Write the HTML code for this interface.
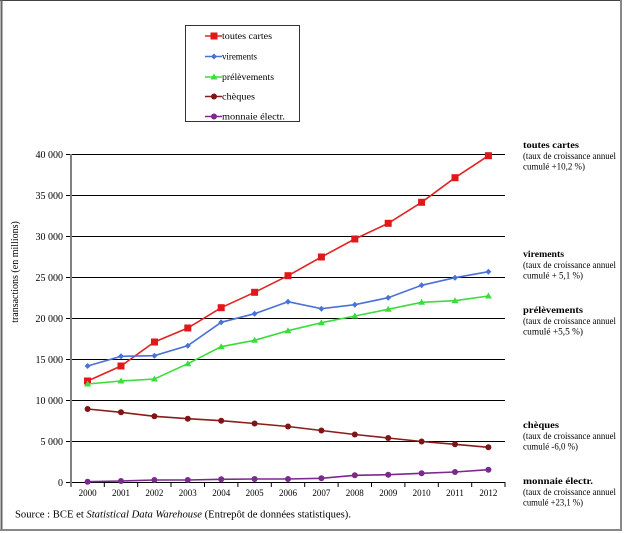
<!DOCTYPE html>
<html><head><meta charset="utf-8"><style>
html,body{margin:0;padding:0;background:#fff;}
svg{display:block;}
text{font-family:"Liberation Serif","DejaVu Serif",serif;fill:#000;}
</style></head><body>
<svg width="624" height="533" viewBox="0 0 624 533" xmlns="http://www.w3.org/2000/svg">
<rect x="0" y="0" width="624" height="533" fill="#fff"/>
<!-- outer frame -->
<line x1="0" y1="0.5" x2="622" y2="0.5" stroke="#444" stroke-width="1"/>
<line x1="1.5" y1="0" x2="1.5" y2="531" stroke="#666" stroke-width="2"/>
<line x1="621" y1="0" x2="621" y2="531" stroke="#888" stroke-width="2"/>
<line x1="0" y1="530" x2="622" y2="530" stroke="#888" stroke-width="2"/>

<!-- gridlines -->
<g stroke="#000" stroke-width="1">
<line x1="66" y1="154.5" x2="505" y2="154.5"/>
<line x1="66" y1="195.5" x2="505" y2="195.5"/>
<line x1="66" y1="236.5" x2="505" y2="236.5"/>
<line x1="66" y1="277.5" x2="505" y2="277.5"/>
<line x1="66" y1="318.5" x2="505" y2="318.5"/>
<line x1="66" y1="359.5" x2="505" y2="359.5"/>
<line x1="66" y1="400.5" x2="505" y2="400.5"/>
<line x1="66" y1="441.5" x2="505" y2="441.5"/>
<line x1="66" y1="482.5" x2="505" y2="482.5"/>
</g>
<!-- x ticks -->
<g stroke="#000" stroke-width="1">
<line x1="104.3" y1="482" x2="104.3" y2="487"/>
<line x1="137.7" y1="482" x2="137.7" y2="487"/>
<line x1="171" y1="482" x2="171" y2="487"/>
<line x1="204.5" y1="482" x2="204.5" y2="487"/>
<line x1="237.9" y1="482" x2="237.9" y2="487"/>
<line x1="271.3" y1="482" x2="271.3" y2="487"/>
<line x1="304.7" y1="482" x2="304.7" y2="487"/>
<line x1="338.1" y1="482" x2="338.1" y2="487"/>
<line x1="371.5" y1="482" x2="371.5" y2="487"/>
<line x1="404.9" y1="482" x2="404.9" y2="487"/>
<line x1="438.3" y1="482" x2="438.3" y2="487"/>
<line x1="471.7" y1="482" x2="471.7" y2="487"/>
<line x1="505" y1="482" x2="505" y2="487"/>
</g>
<!-- y axis -->
<line x1="71" y1="154" x2="71" y2="487" stroke="#808080" stroke-width="2"/>

<!-- y labels -->
<g font-size="10" text-anchor="end">
<text x="63" y="158">40 000</text>
<text x="63" y="199">35 000</text>
<text x="63" y="240">30 000</text>
<text x="63" y="281">25 000</text>
<text x="63" y="322">20 000</text>
<text x="63" y="363">15 000</text>
<text x="63" y="404">10 000</text>
<text x="63" y="445">5 000</text>
<text x="63" y="486">0</text>
</g>
<text transform="translate(18,272) rotate(-90)" font-size="10" text-anchor="middle">transactions  (en millions)</text>

<!-- x labels -->
<g font-size="9" text-anchor="middle">
<text x="87.6" y="496">2000</text>
<text x="121" y="496">2001</text>
<text x="154.4" y="496">2002</text>
<text x="187.8" y="496">2003</text>
<text x="221.2" y="496">2004</text>
<text x="254.6" y="496">2005</text>
<text x="288" y="496">2006</text>
<text x="321.4" y="496">2007</text>
<text x="354.8" y="496">2008</text>
<text x="388.2" y="496">2009</text>
<text x="421.6" y="496">2010</text>
<text x="455" y="496">2011</text>
<text x="488.4" y="496">2012</text>
</g>

<!-- series: toutes cartes -->
<polyline fill="none" stroke="#e32322" stroke-width="1.6" points="87.6,381 121,366 154.4,342 187.8,328 221.2,307.7 254.6,292.3 288,275.7 321.4,257 354.8,239 388.2,223.3 421.6,202.3 455,177.7 488.4,155.7"/>
<g fill="#e01818">
<rect x="84" y="377.5" width="7" height="7"/><rect x="117.5" y="362.5" width="7" height="7"/><rect x="151" y="338.5" width="7" height="7"/><rect x="184.3" y="324.5" width="7" height="7"/><rect x="217.7" y="304.2" width="7" height="7"/><rect x="251.1" y="288.8" width="7" height="7"/><rect x="284.5" y="272.2" width="7" height="7"/><rect x="317.9" y="253.5" width="7" height="7"/><rect x="351.3" y="235.5" width="7" height="7"/><rect x="384.7" y="219.8" width="7" height="7"/><rect x="418.1" y="198.8" width="7" height="7"/><rect x="451.5" y="174.2" width="7" height="7"/><rect x="484.9" y="152.2" width="7" height="7"/>
</g>

<!-- virements -->
<polyline fill="none" stroke="#4a72d6" stroke-width="1.6" points="87.6,366 121,356.3 154.4,355.7 187.8,345.7 221.2,322.3 254.6,313.7 288,301.7 321.4,308.7 354.8,304.7 388.2,297.7 421.6,285.3 455,277.7 488.4,271.7"/>
<g fill="#4a72d6">
<path d="M87.6,363l3,3l-3,3l-3,-3z M121,353.3l3,3l-3,3l-3,-3z M154.4,352.7l3,3l-3,3l-3,-3z M187.8,342.7l3,3l-3,3l-3,-3z M221.2,319.3l3,3l-3,3l-3,-3z M254.6,310.7l3,3l-3,3l-3,-3z M288,298.7l3,3l-3,3l-3,-3z M321.4,305.7l3,3l-3,3l-3,-3z M354.8,301.7l3,3l-3,3l-3,-3z M388.2,294.7l3,3l-3,3l-3,-3z M421.6,282.3l3,3l-3,3l-3,-3z M455,274.7l3,3l-3,3l-3,-3z M488.4,268.7l3,3l-3,3l-3,-3z"/>
</g>

<!-- prélèvements -->
<polyline fill="none" stroke="#3ddc3d" stroke-width="1.6" points="87.6,384 121,381 154.4,379 187.8,363.7 221.2,346.7 254.6,340.3 288,330.7 321.4,322.7 354.8,316 388.2,309.3 421.6,302.3 455,300.7 488.4,296"/>
<g fill="#3ddc3d">
<path d="M87.6,380.5l3.5,6h-7z M121,377.5l3.5,6h-7z M154.4,375.5l3.5,6h-7z M187.8,360.2l3.5,6h-7z M221.2,343.2l3.5,6h-7z M254.6,336.8l3.5,6h-7z M288,327.2l3.5,6h-7z M321.4,319.2l3.5,6h-7z M354.8,312.5l3.5,6h-7z M388.2,305.8l3.5,6h-7z M421.6,298.8l3.5,6h-7z M455,297.2l3.5,6h-7z M488.4,292.5l3.5,6h-7z"/>
</g>

<!-- chèques -->
<polyline fill="none" stroke="#8a1c1c" stroke-width="1.6" points="87.6,409 121,412.3 154.4,416.3 187.8,418.7 221.2,420.7 254.6,423.5 288,426.5 321.4,430.5 354.8,434.5 388.2,438 421.6,441.5 455,444.3 488.4,447.3"/>
<g fill="#7e1515">
<circle cx="87.6" cy="409" r="3"/><circle cx="121" cy="412.3" r="3"/><circle cx="154.4" cy="416.3" r="3"/><circle cx="187.8" cy="418.7" r="3"/><circle cx="221.2" cy="420.7" r="3"/><circle cx="254.6" cy="423.5" r="3"/><circle cx="288" cy="426.5" r="3"/><circle cx="321.4" cy="430.5" r="3"/><circle cx="354.8" cy="434.5" r="3"/><circle cx="388.2" cy="438" r="3"/><circle cx="421.6" cy="441.5" r="3"/><circle cx="455" cy="444.3" r="3"/><circle cx="488.4" cy="447.3" r="3"/>
</g>

<!-- monnaie électr. -->
<polyline fill="none" stroke="#7a2a8c" stroke-width="1.6" points="87.6,481.7 121,481 154.4,480 187.8,480 221.2,479.3 254.6,479 288,479 321.4,478.3 354.8,475.3 388.2,474.7 421.6,473.3 455,472 488.4,469.7"/>
<g fill="#7a2a8c">
<circle cx="87.6" cy="481.7" r="3"/><circle cx="121" cy="481" r="3"/><circle cx="154.4" cy="480" r="3"/><circle cx="187.8" cy="480" r="3"/><circle cx="221.2" cy="479.3" r="3"/><circle cx="254.6" cy="479" r="3"/><circle cx="288" cy="479" r="3"/><circle cx="321.4" cy="478.3" r="3"/><circle cx="354.8" cy="475.3" r="3"/><circle cx="388.2" cy="474.7" r="3"/><circle cx="421.6" cy="473.3" r="3"/><circle cx="455" cy="472" r="3"/><circle cx="488.4" cy="469.7" r="3"/>
</g>

<!-- legend -->
<rect x="185.5" y="25.5" width="114" height="96" fill="#fff" stroke="#333" stroke-width="1"/>
<g stroke-width="1.6">
<line x1="205" y1="36" x2="222" y2="36" stroke="#e32322"/>
<line x1="205" y1="56.5" x2="222" y2="56.5" stroke="#4a72d6"/>
<line x1="205" y1="77" x2="222" y2="77" stroke="#3ddc3d"/>
<line x1="205" y1="96.5" x2="222" y2="96.5" stroke="#8a1c1c"/>
<line x1="205" y1="116.5" x2="222" y2="116.5" stroke="#7a2a8c"/>
</g>
<rect x="210.5" y="32.5" width="7" height="7" fill="#e01818"/>
<path d="M214,53.5l3,3l-3,3l-3,-3z" fill="#4a72d6"/>
<path d="M214,73.5l3.5,6h-7z" fill="#3ddc3d"/>
<circle cx="214" cy="96.5" r="3" fill="#7e1515"/>
<circle cx="214" cy="116.5" r="3" fill="#7a2a8c"/>
<g font-size="9">
<text x="222" y="39" textLength="50" lengthAdjust="spacingAndGlyphs">toutes cartes</text>
<text x="222" y="59.5" textLength="35" lengthAdjust="spacingAndGlyphs">virements</text>
<text x="222" y="80" textLength="52" lengthAdjust="spacingAndGlyphs">prélèvements</text>
<text x="222" y="99.5" textLength="33" lengthAdjust="spacingAndGlyphs">chèques</text>
<text x="222" y="119.5" textLength="63" lengthAdjust="spacingAndGlyphs">monnaie électr.</text>
</g>

<!-- right annotations -->
<g font-size="9">
<text x="523" y="148" font-weight="bold" textLength="56" lengthAdjust="spacingAndGlyphs">toutes cartes</text>
<text x="523" y="159" textLength="93" lengthAdjust="spacingAndGlyphs">(taux de croissance annuel</text>
<text x="523" y="169.5" textLength="62" lengthAdjust="spacingAndGlyphs">cumulé  +10,2 %)</text>

<text x="523" y="257" font-weight="bold" textLength="41" lengthAdjust="spacingAndGlyphs">virements</text>
<text x="523" y="268" textLength="93" lengthAdjust="spacingAndGlyphs">(taux de croissance annuel</text>
<text x="523" y="278.5" textLength="60" lengthAdjust="spacingAndGlyphs">cumulé  + 5,1 %)</text>

<text x="523" y="313" font-weight="bold" textLength="60" lengthAdjust="spacingAndGlyphs">prélèvements</text>
<text x="523" y="324" textLength="93" lengthAdjust="spacingAndGlyphs">(taux de croissance annuel</text>
<text x="523" y="334.5" textLength="60" lengthAdjust="spacingAndGlyphs">cumulé +5,5 %)</text>

<text x="523" y="428" font-weight="bold" textLength="36" lengthAdjust="spacingAndGlyphs">chèques</text>
<text x="523" y="439" textLength="93" lengthAdjust="spacingAndGlyphs">(taux de croissance annuel</text>
<text x="523" y="449.5" textLength="55" lengthAdjust="spacingAndGlyphs">cumulé -6,0 %)</text>

<text x="523" y="484" font-weight="bold" textLength="70" lengthAdjust="spacingAndGlyphs">monnaie électr.</text>
<text x="523" y="495" textLength="93" lengthAdjust="spacingAndGlyphs">(taux de croissance annuel</text>
<text x="523" y="505.5" textLength="60" lengthAdjust="spacingAndGlyphs">cumulé +23,1 %)</text>
</g>

<!-- source -->
<text x="15" y="517.5" font-size="10" textLength="336" lengthAdjust="spacingAndGlyphs">Source : BCE et <tspan font-style="italic">Statistical Data Warehouse</tspan> (Entrepôt de données statistiques).</text>
</svg>
</body></html>
